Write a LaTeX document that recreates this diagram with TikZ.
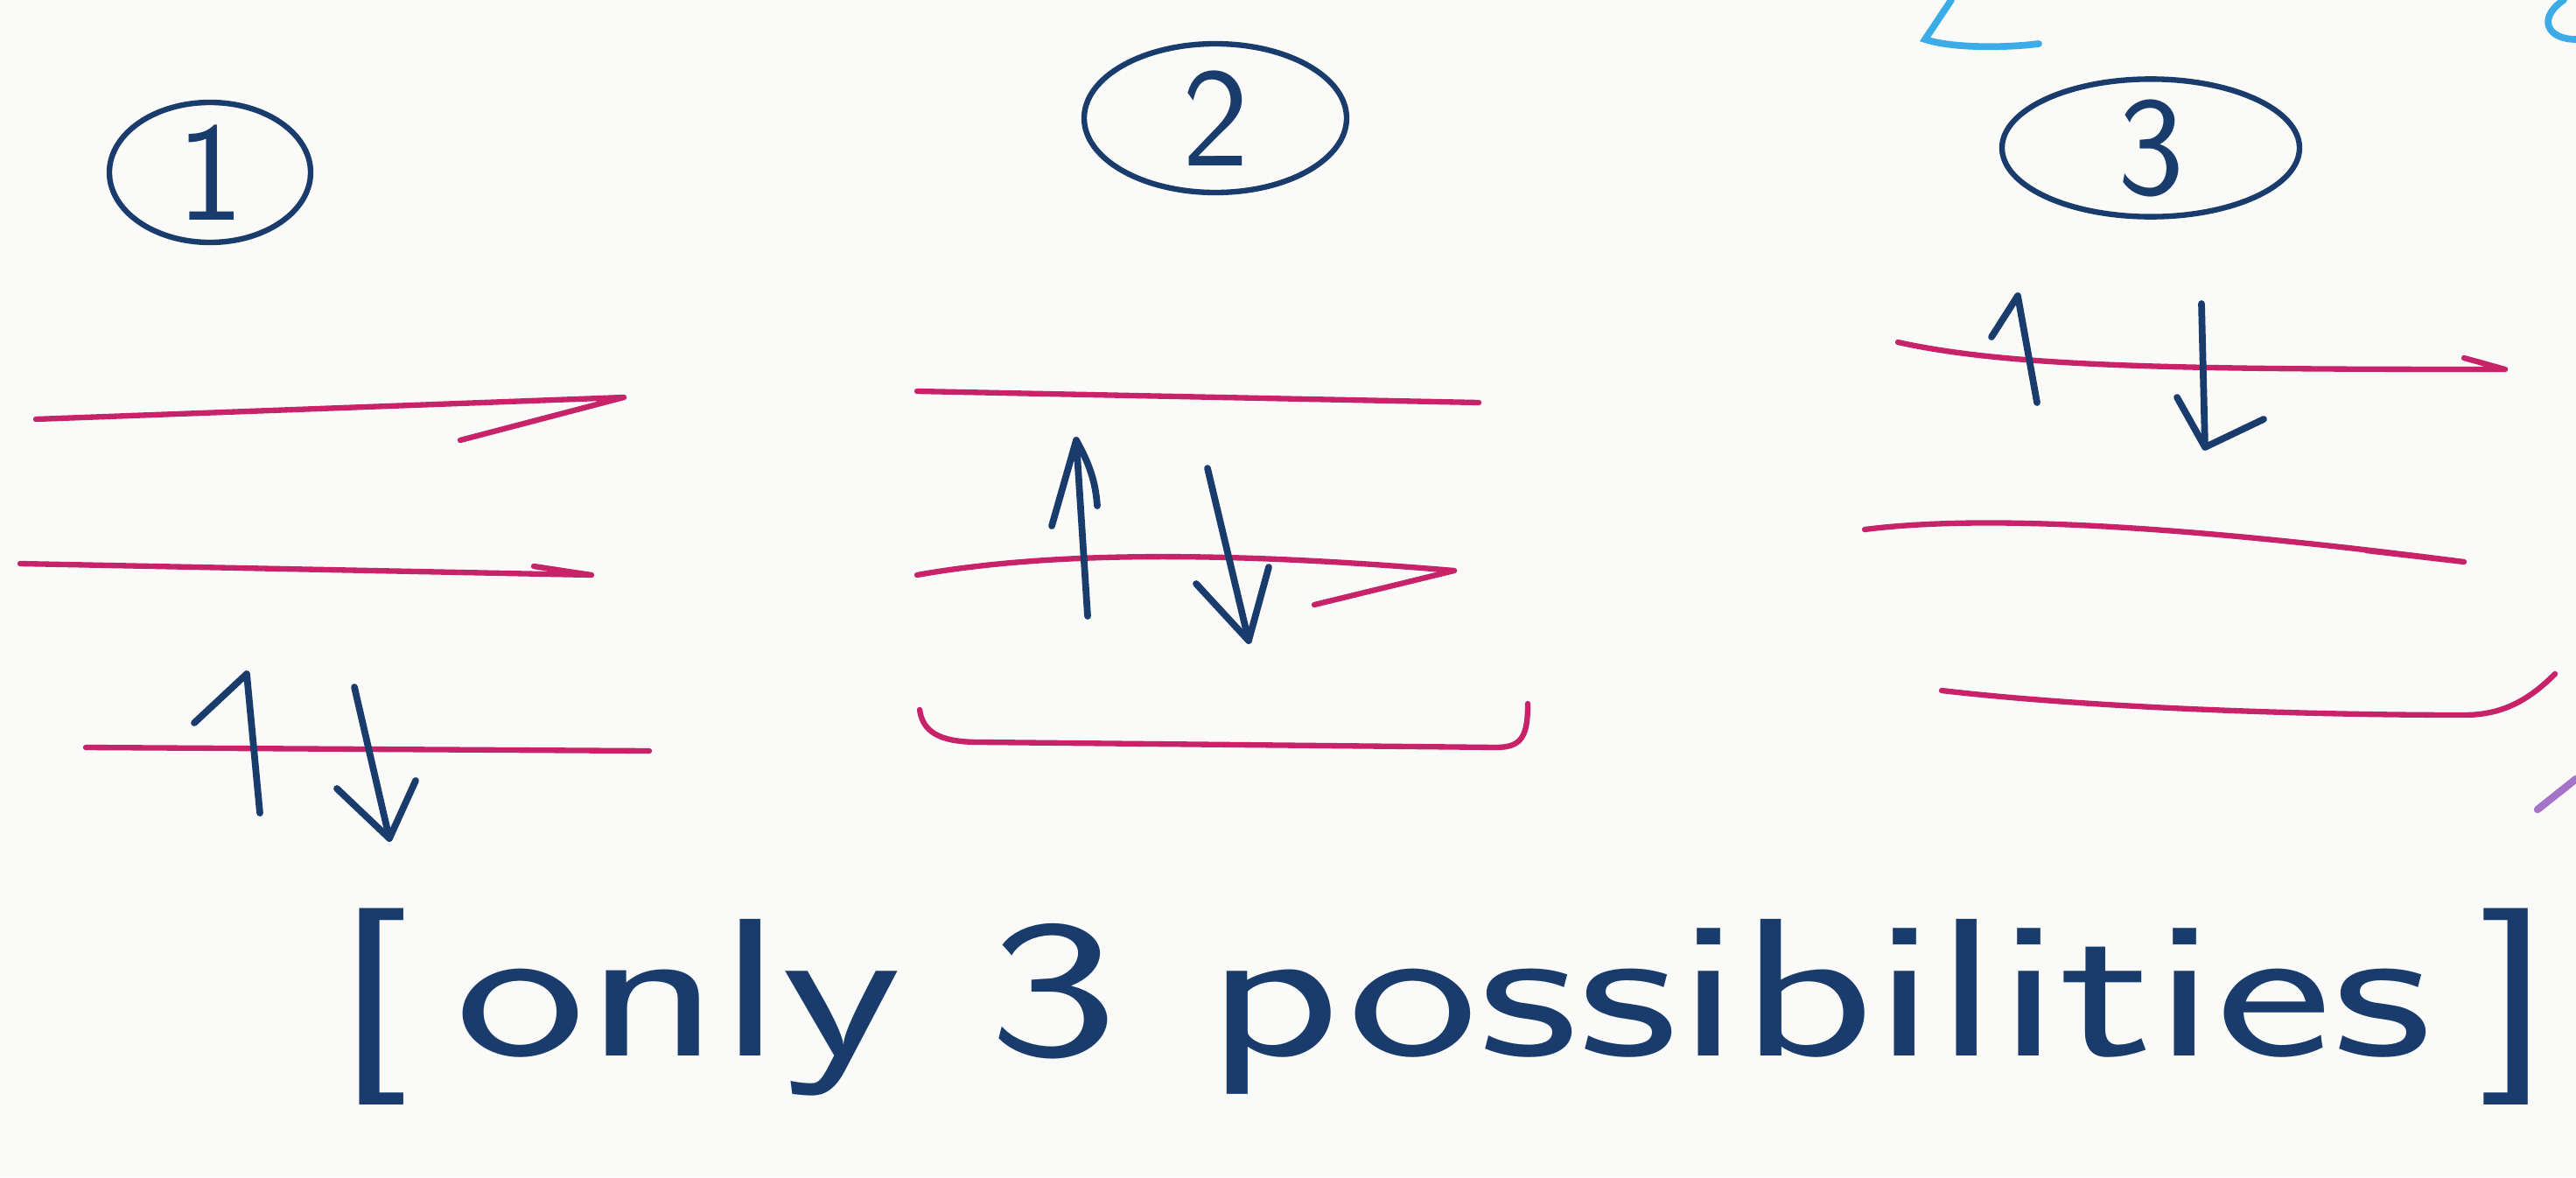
\documentclass[tikz,border=0pt]{standalone}
\usepackage{tikz}
\usetikzlibrary{positioning, shapes.geometric}
\definecolor{InkNavy}{RGB}{25, 60, 108}
\definecolor{LevelPink}{RGB}{200, 35, 105}
\definecolor{SkyInk}{RGB}{60, 172, 232}
\definecolor{LilacInk}{RGB}{165, 115, 200}
\definecolor{PaperWhite}{RGB}{250, 250, 249}

\begin{document}
\begin{tikzpicture}[y=-1cm,
    level/.style={LevelPink, line width=1.8pt, line cap=round, line join=round},
    spin/.style={InkNavy, line width=2.2pt, line cap=round, line join=round},
    tag/.style={ellipse, draw=InkNavy, line width=1.8pt, text=InkNavy, inner sep=0pt,
      font=\sffamily\fontsize{46}{46}\selectfont}]
    \fill[PaperWhite] (0,0) rectangle (29.44,13.45);
    \useasboundingbox (0,0) rectangle (29.44,13.45);

    % numbered cases
    \node[tag, minimum width=2.3cm, minimum height=1.6cm] (one) at (2.4,1.97) {1};
    \node[tag, minimum width=3.0cm, minimum height=1.7cm] (two) at (13.89,1.35) {2};
    \node[tag, minimum width=3.4cm, minimum height=1.5cm] (three) at (24.58,1.69) {3};

    % levels, case 1
    \draw[level] (0.41,4.79) -- (7.13,4.54) -- (5.26,5.03);
    \draw[level] (0.23,6.44) -- (6.76,6.57) -- (6.1,6.47);
    \draw[level] (0.98,8.54) -- (7.42,8.58);
    % levels, case 2
    \draw[level] (10.48,4.47) -- (16.9,4.60);
    \draw[level] (10.48,6.57) .. controls (12,6.3) and (14,6.3) .. (16.62,6.52) -- (15.02,6.91);
    \draw[level] (10.51,8.11) .. controls (10.55,8.4) and (10.8,8.48) .. (11.2,8.48)
      -- (17.1,8.54) .. controls (17.4,8.54) and (17.46,8.4) .. (17.46,8.04);
    % levels, case 3
    \draw[level] (21.69,3.91) .. controls (23,4.2) and (25,4.22) .. (28.63,4.22) -- (28.16,4.09);
    \draw[level] (21.31,6.05) .. controls (22.5,5.9) and (24.5,5.95) .. (28.16,6.42) -- (27.04,6.29);
    \draw[level] (22.19,7.89) .. controls (24,8.1) and (26.5,8.17) .. (28.16,8.17)
      .. controls (28.6,8.17) and (28.9,8) .. (29.2,7.7);

    % electron pairs: up stem, up barb, down stem, down barbs
    \foreach \ub/\ut/\ul/\dt/\dp/\dl/\dr in {
        {2.97,9.29}/{2.82,7.70}/{2.22,8.26}/{4.05,7.85}/{4.45,9.58}/{3.85,9.01}/{4.75,8.92},
        {12.43,7.04}/{12.30,5.03}/{12.02,6.01}/{13.80,5.35}/{14.27,7.32}/{13.67,6.67}/{14.50,6.48},
        {23.28,4.60}/{23.06,3.38}/{22.76,3.85}/{25.16,3.47}/{25.20,5.11}/{24.88,4.54}/{25.87,4.79}} {
      \draw[spin] (\ub) -- (\ut) -- (\ul);
      \draw[spin] (\dt) -- (\dp) -- (\dr);
      \draw[spin] (\dl) -- (\dp);
    }
    \draw[spin] (12.30,5.03) .. controls (12.45,5.3) and (12.52,5.5) .. (12.54,5.78);

    % stray ink at the edges
    \draw[SkyInk, line width=2.2pt, line cap=round] (22.3,0) -- (22.0,0.45) .. controls (22.3,0.55) and (22.9,0.55) .. (23.3,0.5);
    \draw[SkyInk, line width=2.2pt, line cap=round] (29.3,0) .. controls (29.0,0.2) and (29.1,0.45) .. (29.44,0.45);
    \draw[LilacInk, line width=2.4pt, line cap=round] (29.0,9.25) -- (29.44,8.9);

    \node[InkNavy, inner sep=0pt, font=\sffamily\fontsize{64}{64}\selectfont] (note) at (16.5,11.5)
      {\scalebox{1.41}[1]{[\,only\ 3\ possibilities\,]}};
\end{tikzpicture}
\end{document}
